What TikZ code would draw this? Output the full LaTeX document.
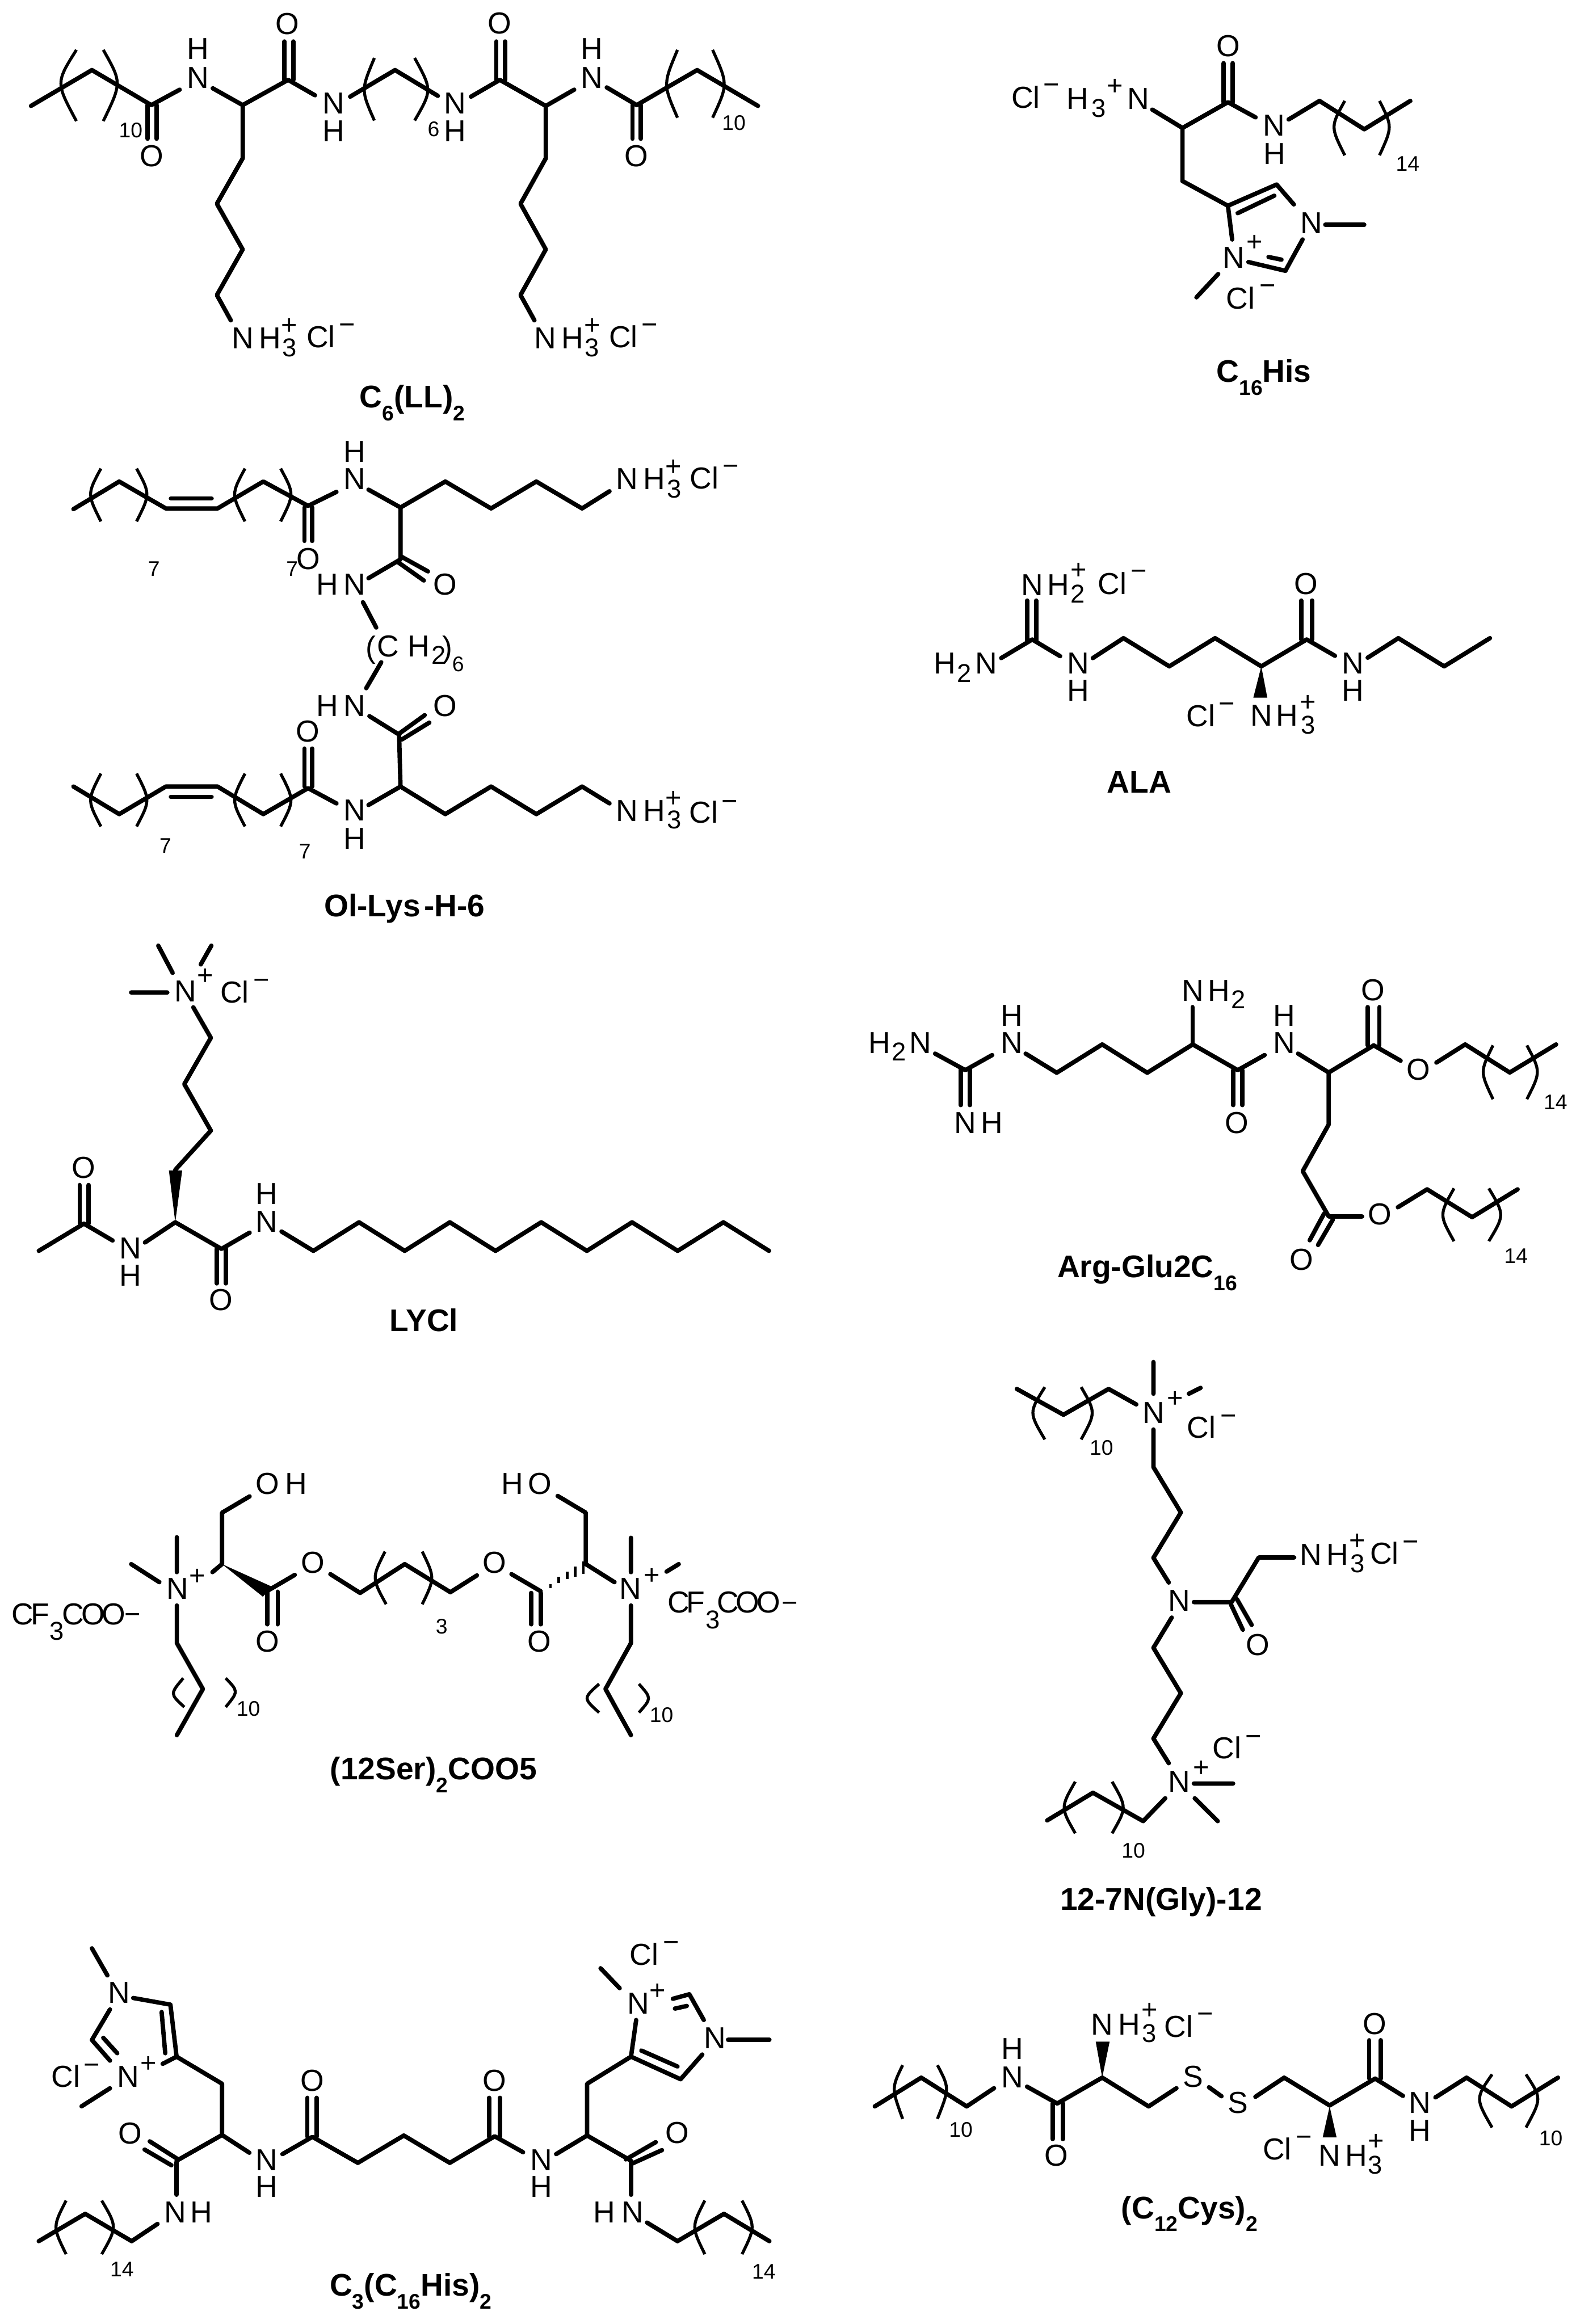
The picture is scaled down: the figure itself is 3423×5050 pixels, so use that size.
\documentclass[tikz,border=0pt]{standalone}
\usepackage{fontspec}
\setmainfont{Liberation Sans}
\newcounter{tcnt}
\newcommand\fa{\fontsize{66pt}{66pt}\selectfont}
\newcommand\fs{\fontsize{56pt}{56pt}\selectfont}
\newcommand\fg{\fontsize{60pt}{60pt}\selectfont}
\newcommand\fn{\fontsize{46pt}{46pt}\selectfont}
\newcommand\fc{\fontsize{68pt}{68pt}\selectfont\bfseries}
\newcommand\cs[1]{\raisebox{-28pt}{\fontsize{46pt}{46pt}\selectfont #1}}
\tikzset{
 bd/.style={line width=9.5pt,line cap=round,line join=round},
 brk/.style={line width=6.5pt,line cap=butt},
 wedge/.style={fill=black,draw=none},
 atomt/.style={inner sep=0pt,anchor=base west,xshift=-4pt,font=\fa},
 subt/.style={inner sep=0pt,anchor=base west,xshift=-2pt,font=\fs},
 idxt/.style={inner sep=0pt,anchor=base west,xshift=-2pt,font=\fn},
 signt/.style={inner sep=0pt,anchor=base,yshift=-20pt,font=\fg},
 capt/.style={inner sep=0pt,anchor=base west,xshift=-4pt,font=\fc}
}
\def\Tm(#1,#2)#3{\stepcounter{tcnt}\node[atomt] (t\arabic{tcnt}) at (#1,#2) {#3};}
\def\Ts(#1,#2)#3{\stepcounter{tcnt}\node[subt] (t\arabic{tcnt}) at (#1,#2) {#3};}
\def\Tn(#1,#2)#3{\stepcounter{tcnt}\node[idxt] (t\arabic{tcnt}) at (#1,#2) {#3};}
\def\Sg(#1,#2)#3{\stepcounter{tcnt}\node[signt] (t\arabic{tcnt}) at (#1,#2) {#3};}
\def\Tc(#1,#2)#3{\stepcounter{tcnt}\node[capt] (t\arabic{tcnt}) at (#1,#2) {#3};}
\def\Br(#1,#2,#3,#4,#5,#6){\draw[brk] (#1,#2) .. controls ({2*#3-(#1+#5)/2},{2*#4-(#2+#6)/2}) .. (#5,#6);}
\begin{document}
\begin{tikzpicture}[x=1pt,y=-1pt]
\useasboundingbox (0,0) rectangle (3423,5050);
\fill[white] (0,0) rectangle (3423,5050);
% ---- C6(LL)2
\begin{scope}[shift={(0pt,0pt)},x=1.1218pt,y=-0.609pt]
\draw[bd] (60,378)--(178,250)--(293,375)--(348,320);
\draw[bd] (412,315)--(470,375)--(558,285)--(610,340);
\draw[bd] (551,285)--(551,148) (568,285)--(568,148);
\draw[bd] (678,345)--(765,250)--(848,342);
\draw[bd] (912,345)--(968,285)--(1057,378)--(1112,320);
\draw[bd] (961,285)--(961,148) (978,285)--(978,148);
\draw[bd] (1175,312)--(1233,375)--(1350,250)--(1468,378);
\draw[bd] (1225,375)--(1225,495) (1241,375)--(1241,495);
\draw[bd] (286,375)--(286,495) (303,375)--(303,495);
\draw[bd] (470,375)--(470,565)--(420,727)--(470,890)--(420,1053)--(447,1143);
\draw[bd] (1057,378)--(1057,565)--(1008,727)--(1057,890)--(1008,1053)--(1035,1143);
\Br(148,178,128,300,148,432)\Br(200,178,218,300,200,432)
\Br(725,207,712,320,725,430)\Br(803,207,820,320,803,430)
\Br(1312,178,1298,300,1312,420)\Br(1380,178,1395,300,1380,420)
\Tm(537,122){O}\Tm(948,120){O}\Tm(274,595){O}\Tm(1213,595){O}
\Tm(365,315){N}\Tm(365,212){H}\Tm(1128,315){N}\Tm(1128,212){H}
\Tm(628,405){N}\Tm(628,505){H}\Tm(863,405){N}\Tm(863,505){H}
\Tn(232,490){10}\Tn(830,487){6}\Tn(1400,465){10}
\Tm(452,1245){N}\Tm(505,1245){H}\Ts(548,1272){3}\Sg(560,1160){+}\Tm(597,1240){Cl}\Sg(672,1158){−}
\Tm(1038,1245){N}\Tm(1091,1245){H}\Ts(1134,1272){3}\Sg(1147,1160){+}\Tm(1183,1240){Cl}\Sg(1258,1158){−}
\Tc(700,1455){C\cs{6}(LL)\cs{2}}
\end{scope}
% ---- C16His
\begin{scope}[shift={(2100pt,0pt)},x=0.7051pt,y=-0.5769pt]
\draw[bd] (572,413)--(665,482)--(805,385)--(890,442);
\draw[bd] (792,385)--(792,238) (820,385)--(820,238);
\draw[bd] (992,450)--(1087,380)--(1225,487)--(1367,380);
\draw[bd] (665,482)--(665,682)--(805,775)--(955,695)--(1008,770);
\draw[bd] (835,803)--(948,737);
\draw[bd] (805,775)--(818,902);
\draw[bd] (868,987)--(982,1020)--(1035,902);
\draw[bd] (930,968)--(970,978);
\draw[bd] (1105,847)--(1225,847);
\draw[bd] (775,1032)--(708,1120);
\Br(1165,380,1143,480,1165,585)\Br(1272,380,1292,480,1272,585)
\Tm(143,407){Cl}\Sg(262,320){−}\Tm(313,412){H}\Ts(387,442){3}\Sg(457,323){+}\Tm(500,412){N}
\Tm(775,212){O}\Tm(918,512){N}\Tm(920,618){H}\Tn(1325,645){14}
\Tm(795,1010){N}\Sg(887,912){+}\Tm(1033,880){N}\Tm(805,1163){Cl}\Sg(927,1075){−}
\Tc(775,1440){C\cs{16}His}
\end{scope}
% ---- Ol-Lys-H-6
\begin{scope}[shift={(100pt,-930pt)},x=0.9936pt,y=-0.7051pt]
\draw[bd] (60,250)--(160,165)--(262,248)--(375,248)--(475,165)--(573,240)--(635,197);
\draw[bd] (273,217)--(362,217);
\draw[bd] (705,190)--(775,245)--(873,165)--(973,248)--(1072,165)--(1172,248)--(1232,195);
\draw[bd] (565,245)--(565,348) (582,245)--(582,348);
\draw[bd] (775,245)--(775,405)--(705,463);
\draw[bd] (775,395)--(835,442) (768,412)--(826,470);
\draw[bd] (693,537)--(722,615);
\draw[bd] (733,722)--(700,802);
\draw[bd] (707,888)--(772,945)--(775,1105)--(705,1162);
\draw[bd] (772,942)--(828,885) (778,960)--(838,908);
\draw[bd] (775,1105)--(873,1190)--(973,1105)--(1072,1190)--(1172,1105)--(1232,1157);
\draw[bd] (60,1105)--(160,1190)--(262,1105)--(375,1105)--(475,1190)--(573,1110)--(635,1157);
\draw[bd] (273,1137)--(362,1137);
\draw[bd] (565,1105)--(565,988) (582,1105)--(582,988);
\Br(120,125,105,205,120,288)\Br(198,125,213,205,198,288)
\Br(435,125,420,205,435,288)\Br(513,125,528,205,513,288)
\Br(120,1065,105,1147,120,1228)\Br(198,1065,213,1147,198,1228)
\Br(435,1065,420,1147,435,1228)\Br(513,1065,528,1147,513,1228)
\Tm(655,190){N}\Tm(655,105){H}\Tm(1250,190){N}\Tm(1310,190){H}\Ts(1360,215){3}\Sg(1372,118){+}\Tm(1412,187){Cl}\Sg(1497,117){−}
\Tm(552,435){O}\Tn(225,457){7}\Tn(527,457){7}
\Tm(850,515){O}\Tm(595,515){H}\Tm(655,515){N}
\Tm(703,708){(}\Tm(728,705){C}\Tm(795,705){H}\Ts(845,727){2}\Tm(870,708){)}\Tn(890,750){6}
\Tm(595,888){H}\Tm(655,888){N}\Tm(850,888){O}
\Tm(655,1210){N}\Tm(655,1298){H}
\Tm(1250,1212){N}\Tm(1310,1212){H}\Ts(1360,1235){3}\Sg(1372,1140){+}\Tm(1410,1218){Cl}\Sg(1495,1150){−}
\Tm(550,968){O}\Tn(250,1310){7}\Tn(555,1327){7}
\Tc(612,1505){Ol-Lys\kern8pt-H-6}
\end{scope}
% ---- ALA
\begin{scope}[shift={(1950pt,-1150pt)},x=0.8654pt,y=-0.4167pt]
\draw[bd] (325,372)--(325,580) (348,372)--(348,580);
\draw[bd] (338,575)--(260,672) (338,575)--(408,662);
\draw[bd] (490,672)--(567,568)--(682,715)--(797,568)--(913,715)--(1027,575)--(1098,660);
\draw[bd] (1013,372)--(1013,575) (1040,372)--(1040,575);
\draw[bd] (1180,670)--(1257,568)--(1372,715)--(1487,568);
\fill[wedge] (913,715)--(893,878)--(928,878)--cycle;
\Tm(315,345){N}\Tm(380,345){H}\Ts(437,385){2}\Sg(455,212){+}\Tm(507,340){Cl}\Sg(605,218){−}
\Tm(95,755){H}\Ts(152,797){2}\Tm(200,755){N}
\Tm(430,755){N}\Tm(430,897){H}\Tm(1000,340){O}
\Tm(1120,755){N}\Tm(1120,897){H}
\Tm(730,1030){Cl}\Sg(827,910){−}\Tm(890,1027){N}\Tm(955,1027){H}\Ts(1015,1068){3}\Sg(1030,900){+}
\Tc(530,1375){ALA}
\end{scope}
% ---- LYCl
\begin{scope}[shift={(0pt,-2050pt)},x=1.1538pt,y=-0.609pt]
\draw[bd] (298,8)--(325,105) (398,8)--(378,75) (247,175)--(315,175);
\draw[bd] (364,228)--(397,337)--(347,502)--(397,668)--(330,808);
\fill[wedge] (330,995)--(318,810)--(343,810)--cycle;
\draw[bd] (73,1097)--(158,1000)--(212,1060);
\draw[bd] (150,1000)--(150,862) (167,1000)--(167,862);
\draw[bd] (273,1067)--(330,995)--(417,1090)--(470,1032);
\draw[bd] (408,1090)--(408,1213) (425,1090)--(425,1213);
\draw[bd] (530,1028)--(590,1097)--(676,995)--(762,1097)--(847,995)--(933,1097)--(1019,995)--(1105,1097)--(1190,995)--(1276,1097)--(1362,995)--(1448,1097);
\Tm(332,207){N}\Sg(387,115){+}\Tm(418,212){Cl}\Sg(492,130){−}
\Tm(138,838){O}\Tm(228,1125){N}\Tm(228,1222){H}\Tm(397,1310){O}\Tm(485,1030){N}\Tm(485,930){H}
\Tc(737,1385){LYCl}
\end{scope}
% ---- Arg-Glu2C16
\begin{scope}[shift={(1850pt,-2050pt)},x=1.0083pt,y=-0.5128pt]
\draw[bd] (180,467)--(245,537)--(303,473);
\draw[bd] (235,535)--(235,685) (255,535)--(255,685);
\draw[bd] (375,467)--(442,548)--(540,428)--(637,548)--(735,428)--(832,537)--(890,473);
\draw[bd] (735,428)--(735,270);
\draw[bd] (822,537)--(822,685) (842,537)--(842,685);
\draw[bd] (962,467)--(1028,547)--(1125,432)--(1183,497);
\draw[bd] (1112,432)--(1112,270) (1137,432)--(1137,270);
\draw[bd] (1260,505)--(1322,428)--(1418,547)--(1518,428);
\draw[bd] (1028,547)--(1028,767)--(972,965)--(1028,1157)--(1100,1157);
\draw[bd] (1018,1145)--(987,1258) (1037,1170)--(1005,1278);
\draw[bd] (1177,1118)--(1240,1042)--(1337,1160)--(1435,1042);
\Br(1382,432,1368,545,1382,660)\Br(1455,432,1470,545,1455,660)
\Br(1298,1038,1282,1150,1298,1262)\Br(1373,1038,1390,1150,1373,1262)
\Tm(40,467){H}\Ts(88,497){2}\Tm(128,467){N}
\Tm(225,805){N}\Tm(282,805){H}\Tm(325,467){N}\Tm(325,350){H}
\Tm(715,245){N}\Tm(772,245){H}\Ts(820,275){2}
\Tm(808,805){O}\Tm(912,467){N}\Tm(912,350){H}
\Tm(1102,243){O}\Tm(1200,578){O}\Tn(1493,705){14}
\Tm(948,1385){O}\Tm(1117,1192){O}\Tn(1408,1355){14}
\Tc(447,1415){Arg-Glu2C\cs{16}}
\end{scope}
% ---- (12Ser)2COO5
\begin{scope}[shift={(0pt,-3050pt)},x=1.1538pt,y=-0.5449pt]
\draw[bd] (333,533)--(333,672) (247,640)--(300,712);
\draw[bd] (333,805)--(333,955)--(382,1138)--(333,1322);
\draw[bd] (400,672)--(418,640)--(418,435)--(470,370);
\fill[wedge] (418,640)--(512,730)--(495,770)--cycle;
\draw[bd] (505,745)--(555,683);
\draw[bd] (503,750)--(503,880) (523,750)--(523,880);
\draw[bd] (622,680)--(678,755)--(762,640)--(848,752)--(898,685);
\draw[bd] (963,680)--(1018,748);
\draw[bd] (1000,755)--(1000,880) (1018,755)--(1018,880);
\draw[bd,line width=5pt,line cap=butt] (1037,720)--(1037,735) (1052,690)--(1052,715) (1068,670)--(1068,700) (1083,650)--(1083,690) (1098,630)--(1098,680);
\draw[bd] (1050,368)--(1103,435)--(1103,640)--(1157,712);
\draw[bd] (1188,535)--(1188,672) (1255,670)--(1278,640);
\draw[bd] (1188,805)--(1188,955)--(1140,1138)--(1188,1322);
\Br(345,1095,333,1155,347,1210)\Br(425,1095,437,1150,425,1210)
\Br(725,590,713,695,727,800)\Br(795,590,807,695,795,800)
\Br(1128,1118,1113,1175,1128,1232)\Br(1203,1118,1215,1175,1203,1232)
\Tm(25,882){C\kern-6pt F}\Ts(95,943){3}\Tm(120,882){C\kern-6pt O\kern-6pt O}\Sg(250,841){−}
\Tm(317,780){N}\Sg(372,687){+}\Tn(447,1247){10}
\Tm(485,362){O}\Tm(540,362){H}\Tm(485,990){O}\Tm(570,675){O}
\Tn(822,917){3}\Tm(912,675){O}\Tm(997,990){O}
\Tm(947,362){H}\Tm(998,362){O}
\Tm(1170,780){N}\Sg(1227,685){+}\Tn(1225,1270){10}
\Tm(1260,835){C\kern-6pt F}\Ts(1330,897){3}\Tm(1353,835){C\kern-6pt O\kern-6pt O}\Sg(1487,795){−}
\Tc(625,1500){(12Ser)\cs{2}COO5}
\end{scope}
% ---- 12-7N(Gly)-12
\begin{scope}[shift={(2150pt,-2950pt)},x=0.641pt,y=-0.8013pt]
\draw[bd] (555,12)--(555,98) (675,98)--(715,82);
\draw[bd] (497,127)--(403,85)--(250,155)--(92,85);
\draw[bd] (555,195)--(555,297)--(648,420)--(555,543)--(607,610);
\draw[bd] (692,663)--(820,663)--(912,542)--(1032,542);
\draw[bd] (818,670)--(858,738) (838,655)--(888,725);
\draw[bd] (617,705)--(555,787)--(648,910)--(555,1033)--(607,1100);
\draw[bd] (692,1155)--(825,1155) (695,1195)--(773,1257);
\draw[bd] (595,1195)--(520,1257)--(350,1180)--(195,1255);
\Br(187,80,160,150,187,222)\Br(310,80,335,150,310,222)
\Br(290,1150,265,1220,290,1290)\Br(415,1150,440,1220,415,1290)
\Tm(525,178){N}\Sg(628,110){+}\Tm(675,218){Cl}\Sg(810,157){−}\Tn(342,265){10}
\Tm(612,687){N}\Tm(1057,563){N}\Tm(1147,563){H}\Ts(1225,583){3}\Sg(1247,497){+}\Tm(1295,560){Cl}\Sg(1427,500){−}
\Tm(875,808){O}
\Tm(612,1178){N}\Sg(717,1112){+}\Tm(762,1088){Cl}\Sg(895,1027){−}\Tn(450,1357){10}
\Tc(245,1498){12-7N(Gly)-12}
\end{scope}
% ---- C3(C16His)2
\begin{scope}[shift={(0pt,-4150pt)},x=1.1218pt,y=-0.5769pt]
\draw[bd] (178,145)--(208,247);
\draw[bd] (258,332)--(330,357)--(342,553)--(430,655)--(430,848)--(342,945);
\draw[bd] (345,940)--(290,872) (332,962)--(280,903);
\draw[bd] (342,950)--(342,1073);
\draw[bd] (305,1183)--(255,1248)--(165,1145)--(75,1248);
\draw[bd] (213,375)--(178,490)--(213,568) (200,482)--(227,540);
\draw[bd] (313,385)--(320,540) (342,553)--(315,580) (213,672)--(158,740);
\draw[bd] (430,848)--(483,915);
\draw[bd] (547,920)--(605,855)--(693,953)--(782,850)--(871,953)--(958,853)--(1013,913);
\draw[bd] (595,855)--(595,708) (613,855)--(613,708);
\draw[bd] (947,855)--(947,708) (968,855)--(968,708);
\draw[bd] (1077,920)--(1137,850)--(1222,945);
\draw[bd] (1225,955)--(1282,905) (1212,940)--(1270,875);
\draw[bd] (1137,850)--(1137,655)--(1222,553)--(1318,638)--(1360,545);
\draw[bd] (1242,530)--(1312,590) (1222,553)--(1232,415);
\draw[bd] (1163,220)--(1200,295);
\draw[bd] (1303,335)--(1335,318)--(1363,415) (1307,372)--(1330,362);
\draw[bd] (1410,490)--(1490,490);
\draw[bd] (1222,950)--(1222,1073);
\draw[bd] (1253,1178)--(1312,1248)--(1402,1145)--(1490,1248);
\Br(128,1095,115,1195,128,1297)\Br(197,1095,212,1195,197,1297)
\Br(1365,1095,1352,1195,1365,1297)\Br(1437,1095,1450,1195,1437,1297)
\Tm(213,352){N}\Tm(232,882){O}\Tm(322,1178){N}\Tm(372,1178){H}\Tn(215,1382){14}
\Tm(230,668){N}\Sg(288,578){+}\Tm(103,668){Cl}\Sg(178,583){−}
\Tm(498,982){N}\Tm(498,1082){H}\Tm(585,682){O}\Tm(938,682){O}
\Tm(1030,982){N}\Tm(1030,1082){H}\Tm(1292,880){O}
\Tm(1218,392){N}\Sg(1273,303){+}\Tm(1223,208){Cl}\Sg(1300,122){−}\Tm(1367,522){N}
\Tm(1152,1178){H}\Tm(1207,1178){N}\Tn(1458,1390){14}
\Tc(642,1455){C\cs{3}(C\cs{16}His)\cs{2}}
\end{scope}
% ---- (C12Cys)2
\begin{scope}[shift={(1850pt,-4250pt)},x=1.0083pt,y=-0.4167pt]
\draw[bd] (50,785)--(150,635)--(248,785)--(307,690);
\draw[bd] (378,682)--(443,770)--(540,635)--(640,785)--(700,690);
\fill[wedge] (540,635)--(526,447)--(556,447)--cycle;
\draw[bd] (433,770)--(433,955) (455,770)--(455,955);
\draw[bd] (770,685)--(797,732);
\draw[bd] (870,735)--(932,635)--(1030,780)--(1128,640)--(1188,730);
\fill[wedge] (1030,785)--(1015,947)--(1045,947)--cycle;
\draw[bd] (1115,640)--(1115,440) (1140,640)--(1140,440);
\draw[bd] (1258,738)--(1325,635)--(1422,785)--(1522,635);
\Br(110,570,98,700,110,850)\Br(185,570,198,700,185,850)
\Br(1380,618,1362,750,1380,895)\Br(1453,618,1470,750,1453,895)
\Tn(212,945){10}\Tm(327,687){N}\Tm(327,540){H}
\Tm(520,412){N}\Tm(578,412){H}\Ts(628,450){3}\Sg(642,280){+}\Tm(678,425){Cl}\Sg(762,303){−}
\Tm(420,1095){O}\Tm(718,685){S}\Tm(815,822){S}
\Tm(890,1063){Cl}\Sg(975,945){−}\Tm(1010,1097){N}\Tm(1068,1097){H}\Ts(1115,1138){3}\Sg(1130,965){+}
\Tm(1105,410){O}\Tm(1205,822){N}\Tm(1205,965){H}\Tn(1483,990){10}
\Tc(585,1370){(C\cs{12}Cys)\cs{2}}
\end{scope}
\end{tikzpicture}
\end{document}
